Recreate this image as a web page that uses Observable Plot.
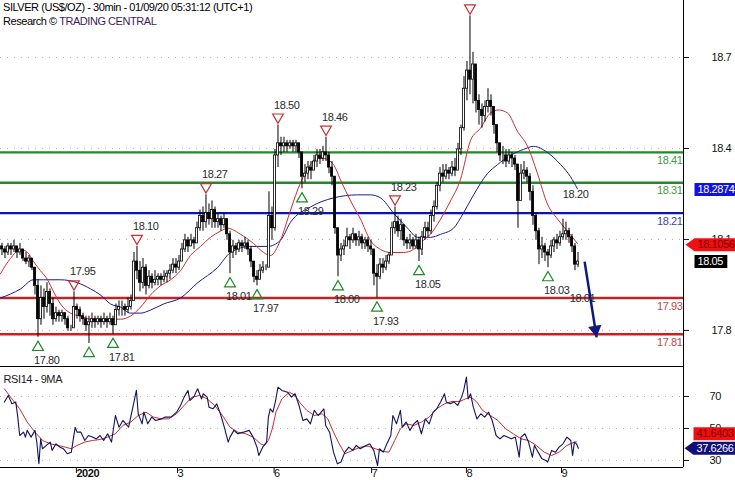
<!DOCTYPE html>
<html><head><meta charset="utf-8">
<script src="https://cdn.jsdelivr.net/npm/d3@7"></script>
<script src="https://cdn.jsdelivr.net/npm/@observablehq/plot@0.6"></script>
<style>
body{margin:0;background:#fff;}
#chart{position:relative;width:735px;height:480px;overflow:hidden;background:#fff;}
#chart svg{position:absolute;left:0;}
#title{position:absolute;left:3px;top:0;font:11px "Liberation Sans",Arial,sans-serif;letter-spacing:-0.45px;line-height:14px;color:#000;z-index:2;white-space:nowrap;}
</style></head><body>
<div id="chart"><div id="title"></div></div>
<script>
// ---------------- data ----------------
const titleLine1 = "SILVER (US$/OZ) - 30min - 01/09/20 05:31:12 (UTC+1)";
const titleLine2a = "Research © ";
const titleLine2b = "TRADING CENTRAL";
const rsiTitle = "RSI14 - 9MA";

const firstOpen = 18.10;
// 30-min bars as [high, low, close]
const bars30m = [
[18.11,18.07,18.09],[18.10,18.06,18.08],[18.11,18.07,18.10],[18.11,18.07,18.09],[18.12,18.08,18.10],[18.10,18.06,18.08],[18.11,18.07,18.09],[18.09,18.05,18.06],[18.08,18.04,18.05],[18.07,18.03,18.06],
[18.06,18.02,18.03],[18.03,17.94,17.97],[17.99,17.80,17.86],[17.97,17.84,17.93],[17.96,17.86,17.90],[17.98,17.88,17.95],[17.96,17.87,17.91],[17.93,17.84,17.86],[17.90,17.85,17.88],[17.89,17.85,17.87],
[17.89,17.85,17.88],[17.88,17.84,17.86],[17.87,17.82,17.83],[17.84,17.82,17.83],[17.95,17.84,17.90],[17.91,17.86,17.89],[17.90,17.85,17.87],[17.88,17.84,17.86],[17.87,17.82,17.84],[17.87,17.78,17.85],
[17.88,17.83,17.86],[17.87,17.83,17.85],[17.87,17.84,17.86],[17.87,17.83,17.85],[17.88,17.84,17.86],[17.87,17.83,17.85],[17.88,17.84,17.86],[17.87,17.81,17.84],[17.91,17.85,17.89],[17.92,17.87,17.90],
[17.92,17.87,17.90],[17.91,17.87,17.89],[17.93,17.88,17.90],[17.94,17.89,17.92],[18.08,17.92,18.05],[18.10,17.99,18.02],[18.05,17.95,17.98],[18.06,17.96,18.03],[18.04,17.94,17.97],[18.02,17.96,18.00],
[18.01,17.96,17.98],[18.02,17.97,17.99],[18.01,17.97,18.00],[18.01,17.97,17.99],[18.02,17.98,18.00],[18.02,17.98,18.01],[18.04,17.99,18.02],[18.06,18.01,18.04],[18.06,18.01,18.03],[18.07,18.02,18.05],
[18.11,18.05,18.09],[18.14,18.08,18.12],[18.13,18.08,18.10],[18.14,18.10,18.12],[18.13,18.09,18.11],[18.18,18.11,18.16],[18.22,18.15,18.20],[18.23,18.15,18.18],[18.27,18.16,18.21],[18.24,18.17,18.19],
[18.25,18.16,18.22],[18.23,18.16,18.18],[18.21,18.16,18.19],[18.20,18.15,18.17],[18.21,18.16,18.19],[18.19,18.12,18.14],[18.15,18.01,18.08],[18.12,18.06,18.10],[18.11,18.07,18.09],[18.12,18.08,18.11],
[18.12,18.08,18.10],[18.13,18.09,18.11],[18.12,18.07,18.09],[18.10,18.03,18.05],[18.05,17.98,18.00],[18.02,17.97,17.99],[18.04,17.99,18.02],[18.05,18.01,18.03],[18.04,18.02,18.03],[18.28,18.12,18.20],
[18.23,18.12,18.16],[18.42,18.15,18.40],[18.50,18.36,18.44],[18.46,18.40,18.43],[18.46,18.41,18.44],[18.45,18.41,18.43],[18.45,18.42,18.44],[18.45,18.41,18.43],[18.45,18.41,18.44],[18.44,18.39,18.41],
[18.40,18.29,18.33],[18.37,18.31,18.34],[18.38,18.32,18.36],[18.38,18.32,18.35],[18.40,18.35,18.38],[18.42,18.36,18.40],[18.42,18.37,18.39],[18.43,18.38,18.41],[18.46,18.38,18.40],[18.41,18.34,18.36],
[18.38,18.30,18.33],[18.31,18.14,18.16],[18.16,18.00,18.07],[18.11,18.05,18.09],[18.12,18.07,18.10],[18.16,18.10,18.13],[18.14,18.09,18.12],[18.16,18.11,18.14],[18.14,18.10,18.12],[18.15,18.10,18.13],
[18.14,18.09,18.11],[18.13,18.09,18.12],[18.13,18.08,18.10],[18.12,18.07,18.09],[18.09,17.97,18.01],[18.04,17.93,18.00],[18.06,17.99,18.04],[18.06,18.01,18.03],[18.07,18.02,18.05],[18.08,18.04,18.07],
[18.18,18.08,18.16],[18.23,18.14,18.18],[18.20,18.13,18.15],[18.19,18.12,18.17],[18.16,18.10,18.12],[18.13,18.09,18.11],[18.14,18.09,18.12],[18.13,18.09,18.10],[18.14,18.09,18.12],[18.13,18.05,18.09],
[18.15,18.07,18.13],[18.18,18.12,18.16],[18.18,18.13,18.15],[18.22,18.14,18.20],[18.25,18.18,18.23],[18.31,18.22,18.30],[18.36,18.28,18.34],[18.37,18.31,18.33],[18.37,18.32,18.35],[18.36,18.32,18.34],
[18.38,18.33,18.36],[18.39,18.33,18.35],[18.44,18.35,18.42],[18.50,18.40,18.49],[18.66,18.48,18.62],[18.71,18.58,18.68],[18.86,18.60,18.65],[18.74,18.57,18.70],[18.65,18.54,18.58],[18.60,18.50,18.55],
[18.57,18.49,18.53],[18.58,18.51,18.56],[18.62,18.54,18.58],[18.60,18.53,18.56],[18.55,18.47,18.50],[18.50,18.41,18.44],[18.44,18.38,18.40],[18.43,18.37,18.40],[18.42,18.36,18.38],[18.42,18.37,18.40],
[18.41,18.36,18.39],[18.40,18.35,18.37],[18.36,18.16,18.25],[18.37,18.30,18.34],[18.38,18.32,18.35],[18.36,18.31,18.33],[18.34,18.25,18.28],[18.30,18.17,18.20],[18.21,18.12,18.15],[18.16,18.04,18.09],
[18.13,18.06,18.10],[18.11,18.05,18.08],[18.09,18.03,18.07],[18.12,18.06,18.10],[18.13,18.08,18.12],[18.14,18.09,18.11],[18.15,18.10,18.13],[18.19,18.12,18.14],[18.18,18.12,18.15],[18.16,18.11,18.13],
[18.14,18.08,18.10],[18.11,18.02,18.04],[18.08,18.03,18.05]
];

// moving averages as [barIndex, value]
const fastMa = [[-0.5,18.01],[2.8,18.06],[6.2,18.09],[8.5,18.08],[10.5,18.05],[12.8,18.02],[15.2,17.99],[17.2,17.95],[19.5,17.91],[22.8,17.88],[26.2,17.87],[29.5,17.86],[32.8,17.86],[36.2,17.86],[39.5,17.86],[42.8,17.87],[46.2,17.90],[49.5,17.94],[52.8,17.97],[56.2,17.99],[59.5,18.02],[62.8,18.07],[66.2,18.10],[69.5,18.13],[72.8,18.15],[75.2,18.16],[79.5,18.14],[83.8,18.11],[87.2,18.08],[89.5,18.07],[92.8,18.12],[96.2,18.22],[99.5,18.31],[102.8,18.37],[105.2,18.39],[107.2,18.39],[110.5,18.37],[112.8,18.32],[116.2,18.25],[119.5,18.19],[122.8,18.12],[126.2,18.09],[129.5,18.08],[133.8,18.08],[137.2,18.09],[140.5,18.12],[142.8,18.14],[146.2,18.19],[149.5,18.25],[152.8,18.32],[156.2,18.45],[159.5,18.49],[162.8,18.54],[165.5,18.55],[168.5,18.54],[171.8,18.48],[175.2,18.43],[178.5,18.34],[181.8,18.24],[185.2,18.19],[188.5,18.15],[191.8,18.11]];
const slowMa = [[-0.5,17.93],[6.2,17.96],[10.5,17.99],[13.8,17.99],[19.5,17.99],[25.2,17.98],[29.5,17.96],[32.8,17.94],[36.2,17.91],[39.5,17.90],[42.8,17.88],[46.2,17.88],[49.5,17.89],[53.8,17.91],[59.5,17.93],[65.2,17.98],[71.8,18.03],[76.2,18.08],[82.8,18.10],[88.5,18.10],[92.8,18.12],[96.2,18.18],[102.8,18.23],[110.5,18.26],[118.5,18.27],[122.8,18.27],[126.2,18.26],[130.5,18.21],[135.2,18.16],[138.5,18.13],[142.8,18.13],[146.2,18.14],[150.5,18.16],[153.8,18.21],[157.2,18.27],[161.8,18.34],[165.2,18.37],[169.5,18.40],[173.8,18.42],[177.2,18.43],[181.8,18.41],[186.2,18.37],[189.5,18.33],[191.8,18.29]];

// RSI14 and its 9MA as [barIndex, value]
const rsiLine = [[0.8,66.5],[2.1,70.6],[3.3,65.4],[4.6,66.5],[5.2,58],[5.9,45.6],[7.2,47.7],[7.8,44.6],[8.4,48.8],[9.7,44.6],[11.0,48.8],[11.6,41.5],[12.3,27.9],[12.9,43.5],[13.5,37.3],[14.8,39.4],[16.1,41.5],[16.7,36.3],[18.0,40.4],[19.3,38.3],[20.5,37.3],[21.8,34.2],[23.1,35.2],[24.4,50.8],[25.0,47.7],[26.3,47.7],[27.6,42.5],[28.8,45.6],[30.1,44.6],[31.4,43.5],[32.7,45.6],[33.9,42.5],[35.2,46.7],[36.5,41.5],[37.8,58.1],[39.0,50.8],[40.3,55],[42.2,50.8],[43.5,62.3],[44.8,73.8],[45.4,59.2],[46.7,52.9],[47.3,60.2],[48.6,52.9],[49.9,57.1],[51.2,55],[53.1,56],[54.4,57.1],[56.3,57.1],[58.2,60.2],[59.5,64.4],[60.7,69.6],[62.0,73.8],[62.6,67.5],[63.9,69.6],[65.2,74.8],[66.5,68.5],[67.1,71.7],[68.4,69.6],[69.0,63.3],[70.3,62.3],[71.6,65.4],[72.8,59.2],[74.1,50.8],[75.4,41.5],[76.0,44.6],[77.3,48.8],[78.6,46.7],[80.5,47.7],[82.4,48.8],[83.7,44.6],[85.0,38.3],[85.6,33.1],[86.9,38.3],[88.2,41.5],[88.8,57.1],[89.4,62.3],[90.3,60.2],[91.1,66.5],[92.0,75.8],[93.3,73.8],[95.2,72.7],[96.5,69.6],[97.7,71.7],[99.0,64.4],[100.3,55],[101.6,56],[102.8,52.9],[104.1,61.3],[105.4,58.1],[107.3,62.3],[107.9,51.9],[109.2,47.7],[110.5,35.2],[111.8,27.9],[113.0,29],[114.3,35.2],[115.6,38.3],[116.9,36.3],[118.1,39.4],[119.4,37.3],[121.3,39.4],[122.6,40.4],[123.9,36.3],[125.2,26.9],[125.8,37.3],[127.1,35.2],[128.3,40.4],[129.6,45.6],[130.3,58.1],[131.5,52.9],[132.8,61.3],[133.4,50.8],[134.7,54],[136.0,48.8],[137.3,52.9],[138.5,55],[139.8,46.7],[141.1,56],[142.4,52.9],[143.7,60.2],[144.9,62.3],[146.2,66.5],[147.5,71.7],[148.1,66.5],[149.4,65.4],[150.7,66.5],[151.9,64.4],[153.2,69.6],[153.9,73.8],[154.8,82.1],[155.4,68.5],[156.2,71.7],[157.1,63.3],[158.3,56],[159.6,59.2],[160.9,57.1],[162.2,60.2],[163.4,55],[164.7,45.6],[166.0,43.5],[167.3,45.6],[168.5,44.6],[169.8,43.5],[171.1,44.6],[172.4,32.1],[173.0,44.6],[174.3,46.7],[175.5,41.5],[176.8,32.1],[177.5,39.4],[178.7,35.2],[180.0,31],[181.3,30],[181.9,29],[183.2,36.3],[184.5,35.2],[185.7,38.3],[187.0,40.4],[188.3,44.6],[189.6,42.5],[190.2,33.1],[190.8,41.5],[191.5,40.4],[192.1,37.6]];
const rsiMaLine = [[0.8,74.8],[3.3,68.5],[5.9,62.3],[8.4,54],[11.0,47.7],[13.5,42.5],[16.1,40.4],[18.6,39.4],[21.2,38.3],[23.1,37.3],[25.0,39.4],[27.6,41.5],[30.1,42.5],[32.7,43.1],[35.2,44.6],[37.8,46.7],[40.3,51.9],[42.9,54],[45.4,58.1],[48.0,60.2],[50.5,57.1],[53.1,56],[55.6,56],[58.2,59.2],[60.7,64.4],[63.3,69.6],[65.8,70.6],[68.4,68.5],[70.9,64.4],[73.5,58.1],[76.0,50.8],[78.6,47.7],[81.2,46.7],[83.7,44.6],[86.2,40.4],[87.5,39.4],[88.8,42.5],[90.1,49.8],[91.3,60.2],[93.3,68.5],[95.8,72.7],[97.7,70.6],[99.6,65.4],[101.6,61.3],[104.1,58.1],[106.7,59.2],[108.6,56],[110.5,47.7],[112.4,40.4],[114.3,34.2],[116.9,36.3],[119.4,38.3],[122.0,39],[124.5,37.3],[127.1,35.6],[129.0,35.2],[130.9,42.5],[132.8,49.8],[134.7,52.9],[137.3,51.9],[139.8,54],[142.4,57.1],[144.9,62.3],[147.5,65.4],[150.0,66.9],[152.6,66.9],[154.5,68.5],[156.4,69.6],[158.3,66.5],[160.2,61.3],[162.8,58.1],[165.3,55],[167.9,49.8],[170.4,46.7],[173.0,43.5],[175.5,42.5],[178.1,39.4],[180.7,35.2],[183.2,33.1],[185.7,35.2],[188.3,39.4],[190.8,41.5],[191.5,41.6]];

// levels
const resistanceLevels = [18.41, 18.31];
const pivotLevels = [18.21];
const supportLevels = [17.93, 17.81];

// swing points (bar index) and their labels
const swingLowIdx = [12, 29, 37, 76, 85, 100, 112, 125, 139, 182];
const swingLowLabels = ["17.80", "", "17.81", "18.01", "17.97", "18.29", "18.00", "17.93", "18.05", "18.03"];
const swingHighIdx = [24, 45, 68, 92, 108, 131, 156];
const swingHighLabels = ["17.95", "18.10", "18.27", "18.50", "18.46", "18.23", ""];

// extra notes [barIndex, price, text]
const notes = [[191.2, 18.27, "18.20"], [193.5, 17.93, "18.01"]];
// forecast arrow [barIndex, price]
const forecastFrom = [194.2, 18.05];
const forecastTo = [198.2, 17.80];

// last values
const slowMaLast = 18.2874, fastMaLast = 18.1056, lastClose = 18.05;
const rsiLast = 37.6266, rsiMaLast = 41.6403;

// axes
const priceTicks = [18.7, 18.4, 18.1, 17.8];
const rsiTicks = [70, 50, 30];
const dayTickIdx = [23.8, 57.5, 89.7, 122.2, 153.8, 185.5];
const dayTickLabels = ["2020", "3", "6", "7", "8", "9"];

// ---------------- layout / style ----------------
const FONT = '"Liberation Sans", Arial, sans-serif';
const W = 735, MAIN_H = 366, RSI_H = 114, MR = 52;
const xDomain = [-0.5, 227.1667];
const priceDomain = [17.704, 18.911];
const rsiDomain = [25.6, 88.75];
const axisShift = 0.023;
const GREEN = "#23892a", BLUE = "#0b16b0", RED1 = "#b42a2a", RED2 = "#d11d1d";
const baseStyle = {fontFamily: FONT, fontSize: "11px", background: "transparent", letterSpacing: "-0.4px", color: "#111"};

document.getElementById("title").innerHTML =
  titleLine1 + "<br>" + titleLine2a + '<span style="color:#3d1d5c">' + titleLine2b + "</span>";

const bars = bars30m.map(([h, l, c], i) => ({i, h, l, c, o: i ? bars30m[i - 1][2] : firstOpen}));
const lowMarks = swingLowIdx.map((i, k) => ({i, p: bars[i].l, label: swingLowLabels[k]}));
const highMarks = swingHighIdx.map((i, k) => ({i, p: bars[i].h, label: swingHighLabels[k]}));

const levelLabels = (vals, color) => Plot.text(vals, {y: d => d, text: d => d.toFixed(2), frameAnchor: "right", textAnchor: "end", dx: -1, dy: 8, fill: color});

const main = Plot.plot({
  width: W, height: MAIN_H,
  marginTop: 0, marginBottom: 0, marginLeft: 0, marginRight: MR,
  style: baseStyle,
  x: {domain: xDomain, axis: null},
  y: {domain: priceDomain, axis: null},
  marks: [
    Plot.ruleY(priceTicks.map(v => v + axisShift), {stroke: "#b0b0b0", strokeDasharray: "1,6"}),
    Plot.ruleY(resistanceLevels, {stroke: GREEN, strokeWidth: 2.3}),
    Plot.ruleY(pivotLevels, {stroke: BLUE, strokeWidth: 2.3}),
    Plot.ruleY(supportLevels.slice(0, 1), {stroke: RED1, strokeWidth: 2.5}),
    Plot.ruleY(supportLevels.slice(1), {stroke: RED2, strokeWidth: 2.5}),
    Plot.line(slowMa, {x: d => d[0], y: d => d[1], stroke: "#1c1c8a", strokeWidth: 1, curve: "monotone-x"}),
    Plot.line(fastMa, {x: d => d[0], y: d => d[1], stroke: "#c8302c", strokeWidth: 1, curve: "monotone-x"}),
    Plot.ruleX(bars, {x: "i", y1: "l", y2: "h", stroke: "#000", strokeWidth: 1}),
    Plot.rect(bars, {x1: d => d.i - 0.33, x2: d => d.i + 0.33, y1: "o", y2: "c",
      fill: d => d.c >= d.o ? "#fff" : "#000", stroke: "#000", strokeWidth: 0.8}),
    levelLabels(resistanceLevels, "#469a46"),
    levelLabels(pivotLevels, "#3846b0"),
    levelLabels(supportLevels, "#c04848"),
    Plot.dot(lowMarks, {x: "i", y: "p", dy: 10, symbol: "triangle", r: 4, stroke: "#1f8a24", fill: "none", strokeWidth: 1.2}),
    Plot.dot(highMarks, {x: "i", y: "p", dy: -8, symbol: "triangle", r: 4, rotate: 180, stroke: "#c83232", fill: "none", strokeWidth: 1.2}),
    Plot.text(lowMarks.filter(d => d.label), {x: "i", y: "p", dy: 23, dx: -4, textAnchor: "start", text: "label", fill: "#2a2a2a"}),
    Plot.text(highMarks.filter(d => d.label), {x: "i", y: "p", dy: -20, dx: -4, textAnchor: "start", text: "label", fill: "#2a2a2a"}),
    Plot.text(notes, {x: d => d[0], y: d => d[1], text: d => d[2], fill: "#2a2a2a"}),
    Plot.link([[forecastFrom, forecastTo]], {x1: d => d[0][0], y1: d => d[0][1], x2: d => d[1][0], y2: d => d[1][1], stroke: "#0c1a80", strokeWidth: 2.5}),
    Plot.dot([forecastTo], {x: d => d[0], y: d => d[1], dx: -1.2, dy: -7.7, symbol: "triangle", r: 5, rotate: 171, fill: "#0c1a80", stroke: "none"}),
    Plot.ruleX([xDomain[1]], {stroke: "#000"}),
    Plot.axisY(priceTicks.map(v => v + axisShift), {anchor: "right", tickSize: 5, tickPadding: 23, tickFormat: d => (d - axisShift).toFixed(1), label: null}),
    Plot.text([slowMaLast], {y: d => d, text: d => d.toFixed(4), frameAnchor: "right", textAnchor: "start", dx: 14, fill: "#fff"}),
    Plot.text([fastMaLast], {y: d => d, text: d => d.toFixed(4), frameAnchor: "right", textAnchor: "start", dx: 14, fill: "#7a0000"}),
    Plot.text([lastClose], {y: d => d, text: d => d.toFixed(2), frameAnchor: "right", textAnchor: "start", dx: 14, fill: "#fff"})
  ]
});

const dayLabel = new Map(dayTickIdx.map((d, i) => [d, dayTickLabels[i]]));
const rsi = Plot.plot({
  width: W, height: RSI_H,
  marginTop: 0, marginBottom: 13, marginLeft: 0, marginRight: MR,
  style: baseStyle,
  x: {domain: xDomain, label: null},
  y: {domain: rsiDomain, label: null},
  marks: [
    Plot.ruleY(rsiTicks, {stroke: "#b0b0b0", strokeDasharray: "1,6"}),
    Plot.line(rsiMaLine, {x: d => d[0], y: d => d[1], stroke: "#c0302c", strokeWidth: 1}),
    Plot.line(rsiLine, {x: d => d[0], y: d => d[1], stroke: "#12125e", strokeWidth: 1.1}),
    Plot.ruleY(rsiDomain, {stroke: "#000"}),
    Plot.ruleX([xDomain[1]], {stroke: "#000"}),
    Plot.axisX(dayTickIdx, {anchor: "bottom", tickSize: 6, tickPadding: -4, textAnchor: "start", dx: 3, tickFormat: d => dayLabel.get(d), label: null}),
    Plot.axisY(rsiTicks, {anchor: "right", tickSize: 5, tickPadding: 21, label: null}),
    Plot.text([rsiTitle], {frameAnchor: "top-left", dx: 3, dy: 9, textAnchor: "start", fill: "#222"}),
    Plot.text([rsiMaLast], {y: d => d, text: d => d.toFixed(4), frameAnchor: "right", textAnchor: "start", dx: 13, dy: -8, fill: "#7a0000"}),
    Plot.text([rsiLast], {y: d => d, text: d => d.toFixed(4), frameAnchor: "right", textAnchor: "start", dx: 13, fill: "#fff"})
  ]
});

const chart = document.getElementById("chart");
main.style.top = "0px";
rsi.style.top = MAIN_H + "px";
chart.appendChild(main);
chart.appendChild(rsi);

// label boxes behind the value tags in the right margin (found by their text)
const plotRight = W - MR;
function tagBox(svg, label, fill, shape) {
  const sr = svg.getBoundingClientRect();
  svg.querySelectorAll("text").forEach(t => {
    if (t.textContent !== label) return;
    const r = t.getBoundingClientRect();
    if (r.left - sr.left < plotRight) return;
    let top = t;
    while (top.parentNode && top.parentNode !== svg) top = top.parentNode;
    const left = r.left - sr.left - 3, right = r.right - sr.left + 4;
    const y0 = r.top - sr.top, y1 = r.bottom - sr.top + 1, cy = (y0 + y1) / 2;
    let d;
    if (shape === "edge") d = `M${left},${y0}H${W}V${y1}H${left}Z`;
    else if (shape === "fit") d = `M${left},${y0}H${right}V${y1}H${left}Z`;
    else d = `M${left - 9},${cy}L${left},${y0}H${W}V${y1}H${left}Z`;
    const p = document.createElementNS("http://www.w3.org/2000/svg", "path");
    p.setAttribute("d", d);
    p.setAttribute("fill", fill);
    svg.insertBefore(p, top);
  });
}
tagBox(main, slowMaLast.toFixed(4), "#1212e0", "edge");
tagBox(main, fastMaLast.toFixed(4), "#f01010", "arrow");
tagBox(main, lastClose.toFixed(2), "#000", "fit");
tagBox(rsi, rsiMaLast.toFixed(4), "#f01010", "edge");
tagBox(rsi, rsiLast.toFixed(4), "#10107a", "arrow");

d3.select(rsi).selectAll("text").filter(function () { return this.textContent === "2020"; }).attr("font-weight", "bold");
</script>
</body></html>
